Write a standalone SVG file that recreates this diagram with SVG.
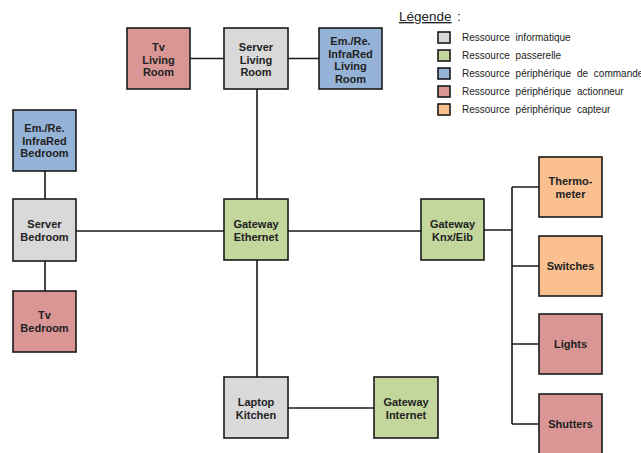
<svg xmlns="http://www.w3.org/2000/svg" width="641" height="453" viewBox="0 0 641 453">
<style>
.n{stroke:#1a1a1a;stroke-width:1.6}
.inf{fill:#d9d9d9}.pas{fill:#c3d69b}.cmd{fill:#95b3d7}.act{fill:#d99694}.cap{fill:#fac090}
.t{font-family:"Liberation Sans",Arial,sans-serif;font-weight:bold;font-size:11px;fill:#222;text-anchor:middle}
.c{stroke:#1a1a1a;stroke-width:1.6;fill:none}
.lg{font-family:"Liberation Sans",Arial,sans-serif;font-size:10px;word-spacing:3px;fill:#222}
.ls{stroke:#1a1a1a;stroke-width:1.6}
</style>
<rect width="641" height="453" fill="#fff"/>
<g id="connectors">
<path class="c" d="M190,58.5H224M288,58.5H319M257,89V199M257,260V377M76,231H224M288,231H421M484,230H512M45,171V199M45,261V291M512,187V424M512,187H539M512,266H539M512,344H539M512,424H539M288,408H374"/>
</g>
<g id="tv-living"><rect class="n act" x="127" y="28" width="63" height="61"/><text class="t" x="158.5"><tspan x="158.5" y="51">Tv</tspan><tspan x="158.5" y="63.5">Living</tspan><tspan x="158.5" y="76">Room</tspan></text></g>
<g id="server-living"><rect class="n inf" x="224" y="28" width="64" height="61"/><text class="t"><tspan x="256" y="51">Server</tspan><tspan x="256" y="63.5">Living</tspan><tspan x="256" y="76">Room</tspan></text></g>
<g id="ir-living"><rect class="n cmd" x="319" y="28" width="63" height="61"/><text class="t"><tspan x="350.5" y="45">Em./Re.</tspan><tspan x="350.5" y="57.5">InfraRed</tspan><tspan x="350.5" y="70">Living</tspan><tspan x="350.5" y="82.5">Room</tspan></text></g>
<g id="ir-bedroom"><rect class="n cmd" x="13" y="110" width="63" height="61"/><text class="t"><tspan x="44.5" y="132">Em./Re.</tspan><tspan x="44.5" y="144.5">InfraRed</tspan><tspan x="44.5" y="157">Bedroom</tspan></text></g>
<g id="server-bedroom"><rect class="n inf" x="13" y="199" width="63" height="62"/><text class="t"><tspan x="44.5" y="228">Server</tspan><tspan x="44.5" y="240.5">Bedroom</tspan></text></g>
<g id="tv-bedroom"><rect class="n act" x="13" y="291" width="63" height="61"/><text class="t"><tspan x="44.5" y="319">Tv</tspan><tspan x="44.5" y="331.5">Bedroom</tspan></text></g>
<g id="gw-ethernet"><rect class="n pas" x="224" y="199" width="64" height="61"/><text class="t"><tspan x="256" y="228">Gateway</tspan><tspan x="256" y="240.5">Ethernet</tspan></text></g>
<g id="gw-knx"><rect class="n pas" x="421" y="199" width="63" height="61"/><text class="t"><tspan x="452.5" y="228">Gateway</tspan><tspan x="452.5" y="240.5">Knx/Eib</tspan></text></g>
<g id="thermometer"><rect class="n cap" x="539" y="157" width="63" height="60"/><text class="t"><tspan x="570.5" y="185">Thermo-</tspan><tspan x="570.5" y="197.5">meter</tspan></text></g>
<g id="switches"><rect class="n cap" x="539" y="236" width="63" height="60"/><text class="t"><tspan x="570.5" y="270">Switches</tspan></text></g>
<g id="lights"><rect class="n act" x="539" y="314" width="63" height="60"/><text class="t"><tspan x="570.5" y="348">Lights</tspan></text></g>
<g id="shutters"><rect class="n act" x="539" y="394" width="63" height="61"/><text class="t"><tspan x="570.5" y="428">Shutters</tspan></text></g>
<g id="laptop"><rect class="n inf" x="224" y="377" width="64" height="61"/><text class="t"><tspan x="256" y="406">Laptop</tspan><tspan x="256" y="418.5">Kitchen</tspan></text></g>
<g id="gw-internet"><rect class="n pas" x="374" y="377" width="64" height="61"/><text class="t"><tspan x="406" y="406">Gateway</tspan><tspan x="406" y="418.5">Internet</tspan></text></g>
<g id="legend">
<text x="399" y="21" font-family="'Liberation Sans',Arial,sans-serif" font-size="13.5" fill="#222" text-decoration="underline">Légende</text>
<text x="457" y="21" font-family="'Liberation Sans',Arial,sans-serif" font-size="13.5" fill="#222">:</text>
<rect class="ls inf" x="438" y="32" width="12" height="11"/><text class="lg" x="462" y="41">Ressource informatique</text>
<rect class="ls pas" x="438" y="50" width="12" height="11"/><text class="lg" x="462" y="59">Ressource passerelle</text>
<rect class="ls cmd" x="438" y="68" width="12" height="11"/><text class="lg" x="462" y="77">Ressource périphérique de commande</text>
<rect class="ls act" x="438" y="86" width="12" height="11"/><text class="lg" x="462" y="95">Ressource périphérique actionneur</text>
<rect class="ls cap" x="438" y="104" width="12" height="11"/><text class="lg" x="462" y="113">Ressource périphérique capteur</text>
</g>
</svg>
